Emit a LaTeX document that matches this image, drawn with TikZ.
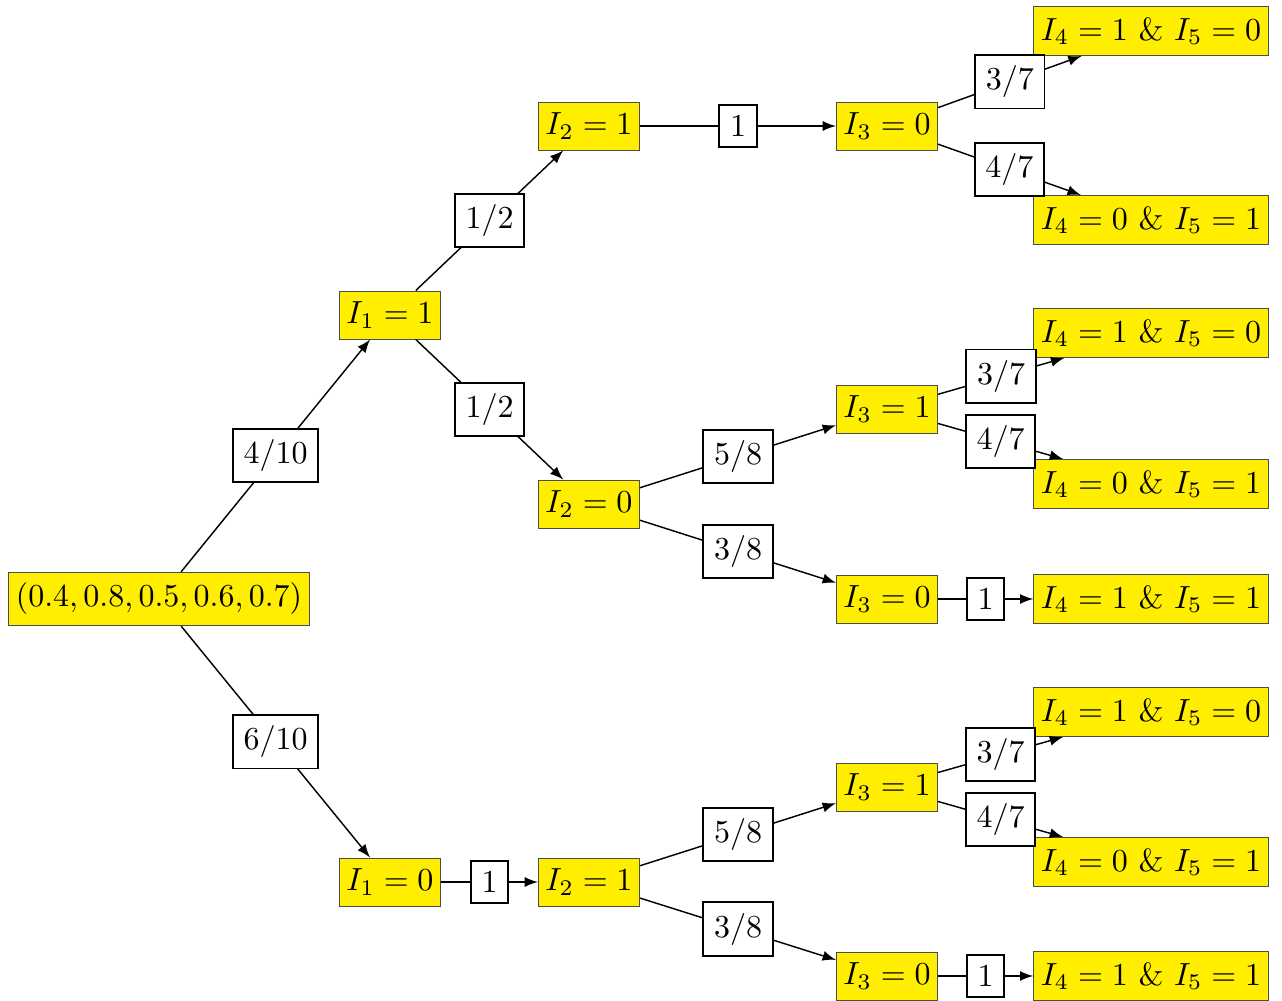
\documentclass[tikz,border=0pt]{standalone}
\usetikzlibrary{arrows}
\definecolor{ybox}{RGB}{255,238,0}
\begin{document}
\begin{tikzpicture}[x=0.3125pt,y=-0.3125pt,
  ynode/.style={draw=black!70,line width=0.3pt,fill=ybox,inner xsep=2.2pt},
  lab/.style={draw=black,fill=white,semithick},
  edge/.style={-latex,line width=0.45pt}]
\useasboundingbox (0,0) rectangle (1282,1001);
% yellow nodes
\node[ynode] (r) at (159,599) {$(0.4,0.8,0.5,0.6,0.7)$};
\node[ynode] (a1) at (390,315) {$I_1=1$};
\node[ynode] (a0) at (390,882) {$I_1=0$};
\node[ynode] (b1) at (589,126) {$I_2=1$};
\node[ynode] (b0) at (589,504) {$I_2=0$};
\node[ynode] (b2) at (589,882) {$I_2=1$};
\node[ynode] (c1) at (887,126) {$I_3=0$};
\node[ynode] (c2) at (887,409) {$I_3=1$};
\node[ynode] (c3) at (887,599) {$I_3=0$};
\node[ynode] (c4) at (887,787) {$I_3=1$};
\node[ynode] (c5) at (887,976) {$I_3=0$};
\node[ynode] (l1) at (1151,31) {$I_4=1$ \& $I_5=0$};
\node[ynode] (l2) at (1151,220) {$I_4=0$ \& $I_5=1$};
\node[ynode] (l3) at (1151,333) {$I_4=1$ \& $I_5=0$};
\node[ynode] (l4) at (1151,484) {$I_4=0$ \& $I_5=1$};
\node[ynode] (l5) at (1151,599) {$I_4=1$ \& $I_5=1$};
\node[ynode] (l6) at (1151,712) {$I_4=1$ \& $I_5=0$};
\node[ynode] (l7) at (1151,862) {$I_4=0$ \& $I_5=1$};
\node[ynode] (l8) at (1151,976) {$I_4=1$ \& $I_5=1$};
% edges
\draw[edge] (r) -- node[lab]{$4/10$} (a1);
\draw[edge] (r) -- node[lab]{$6/10$} (a0);
\draw[edge] (a1) -- node[lab]{$1/2$} (b1);
\draw[edge] (a1) -- node[lab]{$1/2$} (b0);
\draw[edge] (a0) -- node[lab]{$1$} (b2);
\draw[edge] (b1) -- node[lab]{$1$} (c1);
\draw[edge] (b0) -- node[lab]{$5/8$} (c2);
\draw[edge] (b0) -- node[lab]{$3/8$} (c3);
\draw[edge] (b2) -- node[lab]{$5/8$} (c4);
\draw[edge] (b2) -- node[lab]{$3/8$} (c5);
\draw[edge] (c1) -- node[lab]{$3/7$} (l1);
\draw[edge] (c1) -- node[lab]{$4/7$} (l2);
\draw[edge] (c2) -- node[lab]{$3/7$} (l3);
\draw[edge] (c2) -- node[lab]{$4/7$} (l4);
\draw[edge] (c3) -- node[lab]{$1$} (l5);
\draw[edge] (c4) -- node[lab]{$3/7$} (l6);
\draw[edge] (c4) -- node[lab]{$4/7$} (l7);
\draw[edge] (c5) -- node[lab]{$1$} (l8);
\end{tikzpicture}
\end{document}
